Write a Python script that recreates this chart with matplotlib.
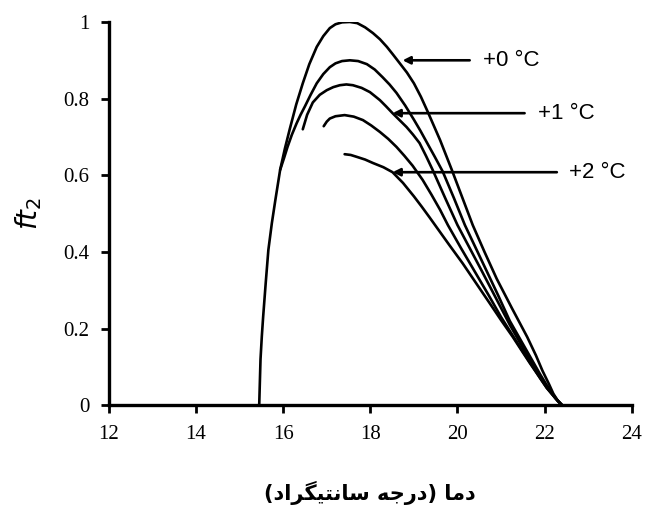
import matplotlib
matplotlib.use("Agg")
import matplotlib.pyplot as plt

# curves (temperature, ft2)
a_x = [15.45, 15.48, 15.51, 15.54, 15.6, 15.66, 15.74, 15.82, 15.93, 16.04, 16.15, 16.3,
       16.45, 16.6, 16.77, 16.92, 17.07, 17.2, 17.35, 17.53, 17.7, 17.88, 18.06, 18.22,
       18.38, 18.52, 18.67, 18.84, 19.0, 19.16, 19.32, 19.6, 19.87, 20.1, 20.35, 20.62,
       20.9, 21.25, 21.6, 21.8, 21.95, 22.1, 22.2, 22.3, 22.4]
a_y = [0.0, 0.12, 0.18, 0.23, 0.32, 0.405, 0.475, 0.535, 0.614, 0.67, 0.72, 0.785,
       0.84, 0.89, 0.935, 0.963, 0.984, 0.994, 0.999, 1.0, 0.997, 0.986, 0.971, 0.955,
       0.935, 0.915, 0.893, 0.868, 0.84, 0.805, 0.765, 0.692, 0.614, 0.545, 0.47, 0.4,
       0.33, 0.253, 0.178, 0.13, 0.09, 0.055, 0.03, 0.012, 0.0]

b_x = [15.93, 16.02, 16.1, 16.2, 16.31, 16.4, 16.5, 16.63, 16.77, 16.92, 17.07, 17.2,
       17.35, 17.53, 17.72, 17.92, 18.1, 18.28, 18.44, 18.6, 18.8, 19.0, 19.15, 19.3,
       19.48, 19.66, 19.92, 20.17, 20.42, 20.67, 20.94, 21.2, 21.4, 21.6, 21.75, 21.9,
       22.05, 22.2, 22.3, 22.4]
b_y = [0.614, 0.645, 0.674, 0.706, 0.736, 0.758, 0.78, 0.81, 0.84, 0.864, 0.882, 0.892,
       0.898, 0.90, 0.898, 0.89, 0.876, 0.856, 0.837, 0.815, 0.782, 0.745, 0.716, 0.685,
       0.648, 0.61, 0.54, 0.47, 0.41, 0.35, 0.285, 0.22, 0.18, 0.14, 0.11, 0.08,
       0.052, 0.027, 0.012, 0.0]

c_x = [16.45, 16.55, 16.68, 16.84, 17.0, 17.15, 17.3, 17.45, 17.6, 17.8, 17.99, 18.1,
       18.22, 18.36, 18.51, 18.67, 18.83, 18.98, 19.13, 19.28, 19.43, 19.72, 20.0, 20.28,
       20.55, 20.88, 21.2, 21.5, 21.77, 21.95, 22.1, 22.25, 22.4]
c_y = [0.72, 0.758, 0.79, 0.81, 0.822, 0.83, 0.835, 0.837, 0.835, 0.828, 0.817, 0.807,
       0.796, 0.78, 0.762, 0.744, 0.726, 0.706, 0.684, 0.65, 0.614, 0.54, 0.47, 0.41,
       0.352, 0.28, 0.21, 0.15, 0.097, 0.066, 0.04, 0.018, 0.0]

d_x = [16.93, 17.0, 17.07, 17.2, 17.41, 17.62, 17.83, 18.02, 18.22, 18.41, 18.6, 18.78,
       18.97, 19.2, 19.4, 19.6, 19.78, 20.08, 20.39, 20.7, 21.0, 21.25, 21.5, 21.7,
       21.9, 22.05, 22.2, 22.3, 22.4]
d_y = [0.728, 0.74, 0.748, 0.754, 0.757, 0.753, 0.744, 0.73, 0.713, 0.695, 0.674, 0.651,
       0.625, 0.588, 0.55, 0.51, 0.47, 0.41, 0.35, 0.29, 0.23, 0.185, 0.14, 0.105,
       0.07, 0.045, 0.025, 0.011, 0.0]

e_x = [17.41, 17.55, 17.69, 17.88, 18.06, 18.3, 18.51, 18.75, 19.0, 19.18, 19.36, 19.58,
       19.8, 20.12, 20.43, 20.74, 21.0, 21.27, 21.47, 21.66, 21.86, 22.05, 22.25, 22.4]
e_y = [0.655, 0.653, 0.648, 0.641, 0.632, 0.621, 0.608, 0.58, 0.545, 0.518, 0.49, 0.455,
       0.42, 0.37, 0.318, 0.266, 0.222, 0.178, 0.143, 0.11, 0.077, 0.045, 0.018, 0.0]

labels = ["+0 °C", "+1 °C", "+2 °C"]
x_ticks = [12, 14, 16, 18, 20, 22, 24]
y_ticks = [0, 0.2, 0.4, 0.6, 0.8, 1.0]
y_tick_labels = ["0", "0.2", "0.4", "0.6", "0.8", "1"]

# "دما (درجه سانتیگراد)" in shaped presentation forms, visual order
xlabel = ("(\uFEA9\uFE8D\uFEAE\uFB95\uFBFF\uFE98\uFEE7\uFE8E\uFEB3 "
          "\uFEEA\uFE9F\uFEAD\uFEA9) \uFE8E\uFEE3\uFEA9")

fig = plt.figure(figsize=(6.48, 5.11), dpi=100)
ax = fig.add_axes([0.168, 0.207, 0.807, 0.75])

for xs, ys in [(a_x, a_y), (b_x, b_y), (c_x, c_y), (d_x, d_y), (e_x, e_y)]:
    ax.plot(xs, ys, color="black", lw=1.9, solid_capstyle="round",
            solid_joinstyle="round")

# arrows pointing to the curves
arrow_pos = [((18.74, 0.90), (20.28, 0.90), (20.58, 0.90)),
             ((18.51, 0.762), (21.54, 0.762), (21.84, 0.762)),
             ((18.51, 0.608), (22.28, 0.608), (22.55, 0.608))]
for lab, (tip, tail, txt) in zip(labels, arrow_pos):
    ax.annotate("", xy=tip, xytext=tail,
                arrowprops=dict(arrowstyle="-|>", color="black", lw=1.9,
                                mutation_scale=11, shrinkA=0, shrinkB=0))
    ax.text(txt[0], txt[1], lab, fontsize=16, family="Liberation Sans",
            va="center", ha="left", clip_on=False)

ax.set_xlim(12, 24)
ax.set_ylim(0, 1)
ax.set_xticks(x_ticks)
ax.set_yticks(y_ticks)
ax.set_yticklabels(y_tick_labels)
for lbl in ax.get_xticklabels() + ax.get_yticklabels():
    lbl.set_family("Liberation Serif")
    lbl.set_fontsize(15)

for s in ["top", "right"]:
    ax.spines[s].set_visible(False)
for s in ["left", "bottom"]:
    ax.spines[s].set_linewidth(2.4)
ax.tick_params(direction="out", length=6, width=2, pad=8)

ax.set_xlabel(xlabel, fontsize=15, fontweight="bold",
              family=["DejaVu Sans"], labelpad=27)
ax.set_ylabel("$ft_2$", fontsize=20, labelpad=14)

fig.savefig("out.png", dpi=100)
